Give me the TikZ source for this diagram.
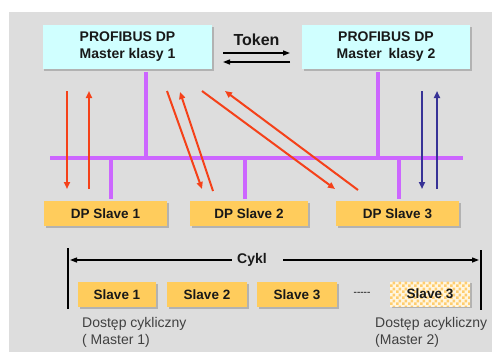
\documentclass[tikz,border=0pt]{standalone}
\usepackage{fontspec}
\setmainfont{Liberation Sans}
\usetikzlibrary{arrows.meta,shadows,patterns.meta}

\definecolor{panel}{RGB}{221,221,221}
\definecolor{mastercyan}{RGB}{208,255,255}
\definecolor{slaveorange}{RGB}{255,204,92}
\definecolor{checkorange}{RGB}{255,205,110}
\definecolor{checklight}{RGB}{255,246,225}
\definecolor{busviolet}{RGB}{204,102,255}
\definecolor{reqred}{RGB}{245,65,25}
\definecolor{acycblue}{RGB}{55,50,150}
\definecolor{inktext}{RGB}{25,25,25}

% 3bp checkerboard cells for the acyclic access slot
\tikzdeclarepattern{
  name=cellchecks,
  tile size={(6bp,6bp)},
  bounding box={(0bp,0bp) and (6bp,6bp)},
  code={
    \fill (0bp,0bp) rectangle (3bp,3bp);
    \fill (3bp,3bp) rectangle (6bp,6bp);
  }
}

\begin{document}
\begin{tikzpicture}[x=1bp,y=-1bp,
  boxshadow/.style={general shadow={fill=black!30, shadow xshift=1.5bp, shadow yshift=-1.5bp}},
  master/.style={rectangle, fill=mastercyan, minimum width=169bp, minimum height=44bp,
    inner sep=0pt, align=center, text=inktext,
    font=\fontsize{14bp}{17bp}\selectfont\bfseries, boxshadow},
  slavebox/.style={rectangle, fill=slaveorange, minimum height=25bp, inner sep=0pt,
    text=inktext, font=\fontsize{13.5bp}{16bp}\selectfont\bfseries, boxshadow},
  bus/.style={busviolet, line width=4bp},
  reqarrow/.style={reqred, line width=2bp, -{Triangle[length=7bp,width=6bp]}},
  acycarrow/.style={acycblue, line width=2bp, -{Triangle[length=7bp,width=6bp]}},
  thinarrow/.style={black, line width=1.3bp, -{Triangle[length=7bp,width=5bp]}},
  bar/.style={black, line width=1.3bp},
  note/.style={anchor=north west, inner sep=0pt, align=left, text=black!75,
    font=\fontsize{14bp}{17bp}\selectfont},
]
% page and grey panel
\fill[white] (0,0) rectangle (492,352);
\fill[panel] (9,12) rectangle (492,352);
\useasboundingbox (0,0) rectangle (492,352);

% masters and token passing
\node[master] (m1) at (127.5,47) {PROFIBUS DP\\Master klasy 1};
\node[master, minimum width=168bp] (m2) at (386,47) {PROFIBUS DP\\Master\hspace{3bp} klasy 2};
\node[text=inktext, font=\fontsize{16bp}{18bp}\selectfont\bfseries] (token) at (256.5,40) {Token};
\coordinate (tokA) at (223,53);
\coordinate (tokB) at (290,53);
\coordinate (tokC) at (223,62);
\coordinate (tokD) at (290,62);
\draw[thinarrow] (tokA) -- (tokB);
\draw[thinarrow] (tokD) -- (tokC);

% slaves
\node[slavebox, minimum width=123bp] (s1) at (105.5,213.5) {DP Slave 1};
\node[slavebox, minimum width=118bp] (s2) at (249,213.5) {DP Slave 2};
\node[slavebox, minimum width=123bp] (s3) at (397.5,213.5) {DP Slave 3};

% bus with taps
\coordinate (busL) at (50,158);
\coordinate (busR) at (463,158);
\coordinate (m1tap) at (146,72);
\coordinate (m2tap) at (378,72);
\coordinate (s1tap) at (111,199);
\coordinate (s2tap) at (245,199);
\coordinate (s3tap) at (399,199);
\draw[bus] (busL) -- (busR);
\draw[bus] (m1tap) -- (m1tap |- busL);
\draw[bus] (m2tap) -- (m2tap |- busL);
\draw[bus] (s1tap |- busL) -- (s1tap);
\draw[bus] (s2tap |- busL) -- (s2tap);
\draw[bus] (s3tap |- busL) -- (s3tap);

% master 1 request / response
\coordinate (r1a) at (67,91);   \coordinate (r1b) at (67,189);
\coordinate (r1c) at (89,189);  \coordinate (r1d) at (89,91);
\coordinate (r2a) at (167,91);  \coordinate (r2b) at (202,189);
\coordinate (r2c) at (213,191); \coordinate (r2d) at (180,92);
\coordinate (r3a) at (202,91);  \coordinate (r3b) at (335,189);
\coordinate (r3c) at (358,190); \coordinate (r3d) at (225,91);
\draw[reqarrow] (r1a) -- (r1b);
\draw[reqarrow] (r1c) -- (r1d);
\draw[reqarrow] (r2a) -- (r2b);
\draw[reqarrow] (r2c) -- (r2d);
\draw[reqarrow] (r3a) -- (r3b);
\draw[reqarrow] (r3c) -- (r3d);

% master 2 acyclic access
\coordinate (a1) at (422,91);  \coordinate (a2) at (422,189);
\coordinate (a3) at (437,189); \coordinate (a4) at (437,91);
\draw[acycarrow] (a1) -- (a2);
\draw[acycarrow] (a3) -- (a4);

% cycle
\coordinate (barLt) at (68,248); \coordinate (barLb) at (68,309);
\coordinate (barRt) at (481,250); \coordinate (barRb) at (481,310);
\draw[bar] (barLt) -- (barLb);
\draw[bar] (barRt) -- (barRb);
\node[text=inktext, font=\fontsize{14bp}{16bp}\selectfont\bfseries] (cykl) at (252,260) {Cykl};
\coordinate (cyL) at (70,260);
\coordinate (cyR) at (479,260);
\draw[thinarrow] ([xshift=-2bp]cykl.west) -- (cyL);
\draw[thinarrow] ([xshift=13bp]cykl.east) -- (cyR);

\node[slavebox, minimum width=78bp] (b1) at (117,294.5) {Slave 1};
\node[slavebox, minimum width=80bp] (b2) at (207,294.5) {Slave 2};
\node[slavebox, minimum width=80bp] (b3) at (297,294.5) {Slave 3};
\node[text=black!70, font=\fontsize{10bp}{10bp}\selectfont\bfseries] (gap) at (362,294) {{-}{-}{-}{-}{-}};
\node[slavebox, minimum width=80bp, fill=none, preaction={fill=checklight},
  pattern=cellchecks, pattern color=checkorange] (b4) at (430,294) {Slave 3};

\node[note] (acc1) at (82,317) {Dostęp cykliczny\\( Master 1)};
\node[note] (acc2) at (375,317) {Dostęp acykliczny\\(Master 2)};
\end{tikzpicture}
\end{document}
